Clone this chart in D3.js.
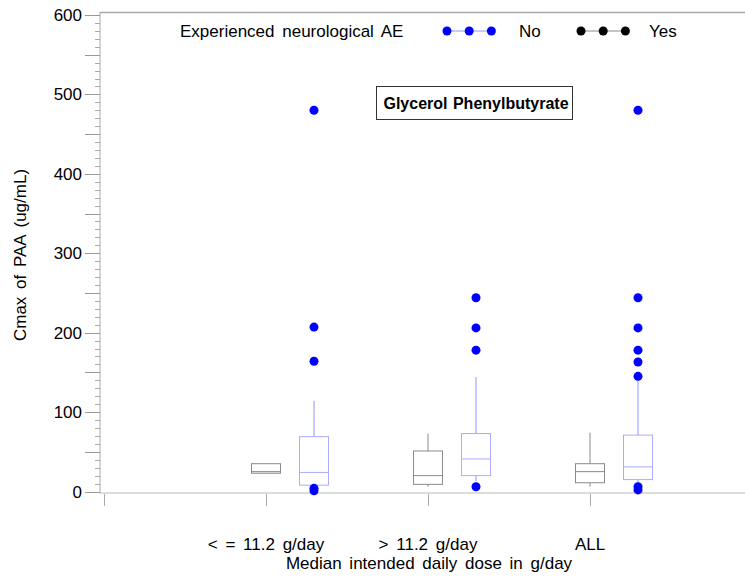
<!DOCTYPE html>
<html>
<head>
<meta charset="utf-8">
<script src="https://cdn.jsdelivr.net/npm/d3@7"></script>
<style>
    body { margin: 0; background: #fff; }
    text { font-family: "Liberation Sans", Arial, sans-serif; fill: #000; word-spacing: 3px; }
</style>
</head>
<body>
<div id="chart"></div>
<script>
// categories on the x axis
let categories = ["< = 11.2 g/day", "> 11.2 g/day", "ALL"];
let groups = ["Yes", "No"];

// box stats per category: [min, q1, median, q3, max]
let statsYes = [
    [23, 23, 25, 35, 35],
    [6, 9, 20, 51, 73],
    [6, 11, 25, 35, 74]
];
let statsNo = [
    [5, 8, 24, 69, 114],
    [13, 20, 41, 73, 144],
    [8, 15, 31, 71, 140]
];

// outliers (No group only)
let outliersNo = [
    [480, 207, 164, 4, 1],
    [244, 206, 178, 6],
    [480, 244, 206, 178, 163, 145, 6, 2]
];

let yTicks = [0, 100, 200, 300, 400, 500, 600];

let width = 745, height = 577;

let svg = d3.select("#chart")
    .append("svg")
    .attr("width", width)
    .attr("height", height);

let y = d3.scaleLinear()
    .domain([0, 600])
    .range([491.5, 15]);

// category slots: 0 = start of axis, 1..3 = groups
let x = d3.scaleLinear()
    .domain([0, 1])
    .range([104, 266]);

let offset = {Yes: 0, No: 48};
let boxW = 29;
let colors = {
    Yes: {box: "#8a8a8a", dot: "#000000", line: "#8a8a8a"},
    No: {box: "#a9acff", dot: "#0000ff", line: "#8f93ff"}
};

// frame lines
svg.append("line")
    .attr("x1", 100).attr("x2", width)
    .attr("y1", 12.5).attr("y2", 12.5)
    .attr("stroke", "#a8a8a8").attr("stroke-width", 1.5);
svg.append("line")
    .attr("x1", 100).attr("x2", width)
    .attr("y1", 493).attr("y2", 493)
    .attr("stroke", "#d0d0d0").attr("stroke-width", 1.5);
svg.append("line")
    .attr("x1", 100).attr("x2", 100)
    .attr("y1", 12).attr("y2", 493)
    .attr("stroke", "#a8a8a8").attr("stroke-width", 1);

// y axis minor ticks
let yAxisG = svg.append("g").attr("class", "y-axis");
yAxisG.selectAll("line.minor")
    .data(d3.range(0, 601, 10).filter(v => v % 50 !== 0))
    .enter()
    .append("line")
    .attr("class", "minor")
    .attr("x1", 95).attr("x2", 100)
    .attr("y1", d => Math.round(y(d)) + 0.5)
    .attr("y2", d => Math.round(y(d)) + 0.5)
    .attr("stroke", "#aaa");
yAxisG.selectAll("line.major")
    .data(d3.range(0, 601, 50))
    .enter()
    .append("line")
    .attr("class", "major")
    .attr("x1", 85).attr("x2", 100)
    .attr("y1", d => Math.round(y(d)) + 0.5)
    .attr("y2", d => Math.round(y(d)) + 0.5)
    .attr("stroke", "#999");
yAxisG.selectAll("text")
    .data(yTicks)
    .enter()
    .append("text")
    .attr("x", 82)
    .attr("y", d => y(d) + 6)
    .attr("text-anchor", "end")
    .style("font-size", "17px")
    .text(d => d);

// x axis ticks
svg.selectAll("line.xtick")
    .data([0, 1, 2, 3])
    .enter()
    .append("line")
    .attr("class", "xtick")
    .attr("x1", d => Math.round(x(d)) + 0.5)
    .attr("x2", d => Math.round(x(d)) + 0.5)
    .attr("y1", 494).attr("y2", 506)
    .attr("stroke", "#aaa");
svg.selectAll("text.xlabel")
    .data(categories)
    .enter()
    .append("text")
    .attr("class", "xlabel")
    .attr("x", (d, i) => x(i + 1))
    .attr("y", 550)
    .attr("text-anchor", "middle")
    .style("font-size", "17px")
    .text(d => d);

// axis titles
svg.append("text")
    .attr("x", 429)
    .attr("y", 569)
    .attr("text-anchor", "middle")
    .style("font-size", "17px")
    .text("Median intended daily dose in g/day");
svg.append("text")
    .attr("transform", "translate(26," + 255 + ") rotate(-90)")
    .attr("text-anchor", "middle")
    .style("font-size", "17px")
    .text("Cmax of PAA (ug/mL)");

// boxes
function drawBoxes(group, stats, outliers) {
    let c = colors[group];
    let g = svg.append("g").attr("class", "box-" + group);
    stats.forEach((s, i) => {
        let cx = x(i + 1) + offset[group];
        // whiskers
        g.append("line")
            .attr("x1", cx).attr("x2", cx)
            .attr("y1", y(s[4])).attr("y2", y(s[3]))
            .attr("stroke", c.line);
        g.append("line")
            .attr("x1", cx).attr("x2", cx)
            .attr("y1", y(s[1])).attr("y2", y(s[0]))
            .attr("stroke", c.line);
        g.append("rect")
            .attr("x", cx - boxW / 2)
            .attr("y", y(s[3]))
            .attr("width", boxW)
            .attr("height", y(s[1]) - y(s[3]))
            .attr("fill", "none")
            .attr("stroke", c.box);
        g.append("line")
            .attr("x1", cx - boxW / 2).attr("x2", cx + boxW / 2)
            .attr("y1", y(s[2])).attr("y2", y(s[2]))
            .attr("stroke", c.box);
        if (outliers) {
            g.selectAll("circle.o" + i)
                .data(outliers[i])
                .enter()
                .append("circle")
                .attr("cx", cx)
                .attr("cy", d => y(d))
                .attr("r", 4.5)
                .attr("fill", c.dot);
        }
    });
}
drawBoxes("Yes", statsYes, null);
drawBoxes("No", statsNo, outliersNo);

// title box
let tb = svg.append("g");
tb.append("rect")
    .attr("x", 376.5).attr("y", 86.5)
    .attr("width", 196).attr("height", 33)
    .attr("fill", "#fff")
    .attr("stroke", "#333");
tb.append("text")
    .attr("x", 476).attr("y", 109)
    .attr("text-anchor", "middle")
    .style("font-size", "16px")
    .style("font-weight", "bold")
    .style("word-spacing", "1px")
    .text("Glycerol Phenylbutyrate");

// legend
let legend = svg.append("g");
legend.append("text")
    .attr("x", 180).attr("y", 37)
    .style("font-size", "17px")
    .text("Experienced neurological AE");
let legendItems = [
    {group: "No", x0: 447, label: "No", lx: 519},
    {group: "Yes", x0: 581, label: "Yes", lx: 649}
];
legendItems.forEach(item => {
    let c = colors[item.group];
    legend.append("line")
        .attr("x1", item.x0).attr("x2", item.x0 + 44)
        .attr("y1", 31).attr("y2", 31)
        .attr("stroke", c.line);
    legend.selectAll("circle." + item.group)
        .data([0, 1, 2])
        .enter()
        .append("circle")
        .attr("cx", d => item.x0 + d * 22.2)
        .attr("cy", 31)
        .attr("r", 4.5)
        .attr("fill", c.dot);
    legend.append("text")
        .attr("x", item.lx).attr("y", 37)
        .style("font-size", "17px")
        .text(item.label);
});
</script>
</body>
</html>
